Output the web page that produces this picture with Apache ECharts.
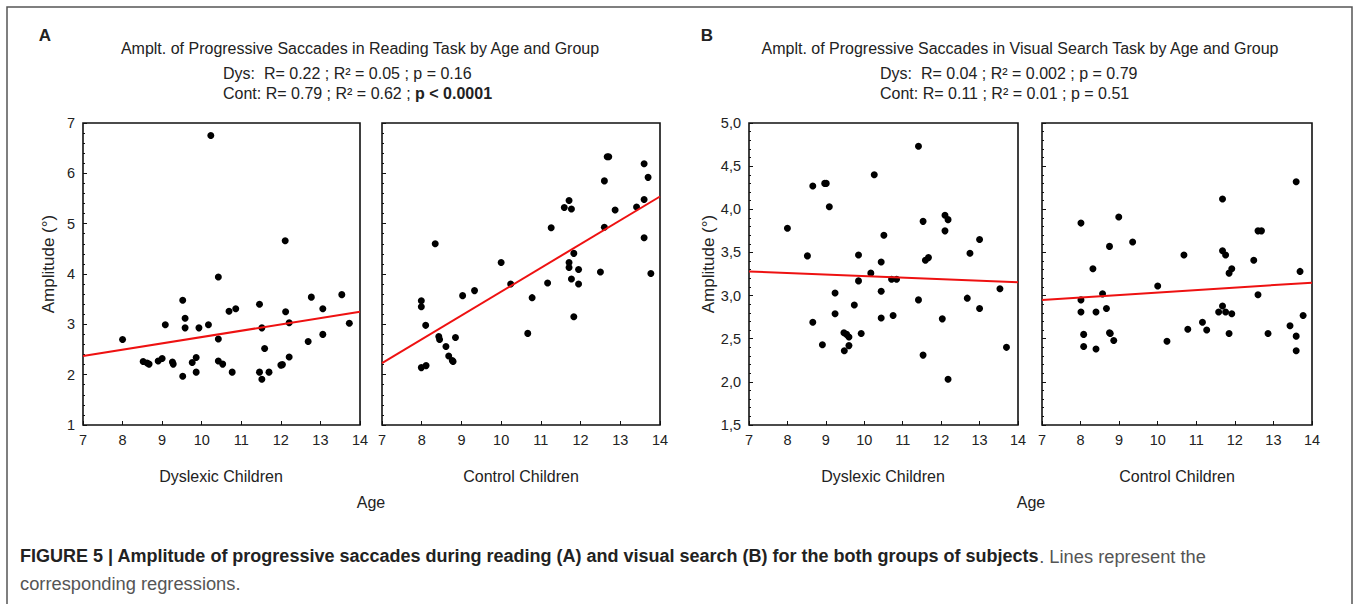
<!DOCTYPE html>
<html>
<head>
<meta charset="utf-8">
<script src="https://cdn.jsdelivr.net/npm/echarts@6/dist/echarts.min.js"></script>
<style>
html,body{margin:0;padding:0;background:#fff;}
#chart{width:1354px;height:604px;}
</style>
</head>
<body>
<div id="chart"></div>
<script>
// ---- Data (age in years, amplitude in degrees) ----
const ageTicks = [7, 8, 9, 10, 11, 12, 13, 14];

const dysReading = [
  [8.0,2.70],[8.52,2.26],[8.62,2.23],[8.67,2.21],[8.9,2.27],[9.0,2.32],[9.08,2.99],
  [9.26,2.25],[9.28,2.21],[9.52,3.48],[9.52,1.97],[9.58,3.12],[9.58,2.93],[9.76,2.24],
  [9.86,2.34],[9.86,2.05],[9.93,2.93],[10.17,2.99],[10.23,6.75],[10.42,3.94],[10.42,2.71],
  [10.42,2.27],[10.53,2.21],[10.69,3.26],[10.86,3.31],[10.77,2.05],[11.46,3.40],[11.52,2.93],
  [11.59,2.52],[11.46,2.05],[11.52,1.91],[11.70,2.05],[12.0,2.19],[12.04,2.20],[12.11,4.66],
  [12.12,3.25],[12.21,3.03],[12.21,2.35],[12.69,2.66],[12.77,3.54],[13.06,3.31],[13.06,2.80],
  [13.54,3.59],[13.73,3.02]
];
const contReading = [
  [7.99,3.47],[7.99,3.35],[8.10,2.98],[7.99,2.14],[8.11,2.18],[8.34,4.60],[8.43,2.76],
  [8.45,2.70],[8.61,2.56],[8.68,2.37],[8.77,2.28],[8.79,2.26],[8.85,2.74],[9.03,3.57],
  [9.33,3.67],[10.0,4.23],[10.24,3.80],[10.67,2.82],[10.78,3.53],[11.17,3.82],[11.26,4.92],
  [11.59,5.32],[11.71,5.46],[11.77,5.29],[11.71,4.23],[11.71,4.13],[11.83,4.41],[11.77,3.90],
  [11.95,4.09],[11.95,3.80],[11.83,3.15],[12.50,4.04],[12.60,5.85],[12.60,4.93],[12.67,6.33],
  [12.71,6.33],[12.87,5.27],[13.41,5.33],[13.60,6.19],[13.70,5.92],[13.60,5.48],[13.60,4.72],
  [13.77,4.01]
];
const dysSearch = [
  [8.0,3.78],[8.52,3.46],[8.66,4.27],[8.66,2.69],[8.91,2.43],[8.97,4.30],[9.01,4.30],
  [9.09,4.03],[9.24,3.03],[9.24,2.79],[9.47,2.57],[9.54,2.55],[9.60,2.52],[9.48,2.36],
  [9.60,2.42],[9.74,2.89],[9.85,3.47],[9.85,3.17],[9.92,2.56],[10.17,3.26],[10.26,4.40],
  [10.44,3.39],[10.44,3.05],[10.44,2.74],[10.51,3.70],[10.71,3.19],[10.84,3.19],[10.75,2.77],
  [11.41,4.73],[11.41,2.95],[11.53,3.86],[11.53,2.31],[11.59,3.41],[11.67,3.44],[12.03,2.73],
  [12.10,3.93],[12.18,3.88],[12.10,3.75],[12.18,2.03],[12.68,2.97],[12.75,3.49],[13.0,3.65],
  [13.0,2.85],[13.53,3.08],[13.70,2.40]
];
const contSearch = [
  [8.01,3.84],[8.01,2.95],[8.01,2.81],[8.08,2.55],[8.08,2.41],[8.32,3.31],[8.40,2.81],
  [8.40,2.38],[8.57,3.02],[8.67,2.85],[8.75,3.57],[8.75,2.57],[8.77,2.56],[8.86,2.48],
  [8.99,3.91],[9.35,3.62],[10.0,3.11],[10.24,2.47],[10.68,3.47],[10.78,2.61],[11.16,2.69],
  [11.27,2.60],[11.58,2.81],[11.68,4.12],[11.68,3.52],[11.76,3.47],[11.68,2.88],[11.76,2.81],
  [11.85,3.26],[11.92,3.31],[11.92,2.79],[11.85,2.56],[12.49,3.41],[12.60,3.01],[12.60,3.75],
  [12.69,3.75],[12.86,2.56],[13.43,2.65],[13.59,4.32],[13.69,3.28],[13.59,2.53],[13.59,2.36],
  [13.77,2.77]
];

// Regression line end points
const dysReadingFit  = [[7, 2.37], [14, 3.25]];
const contReadingFit = [[7, 2.23], [14, 5.54]];
const dysSearchFit   = [[7, 3.28], [14, 3.155]];
const contSearchFit  = [[7, 2.95], [14, 3.15]];

// ---- Chart ----
const FONT = "'Liberation Sans', Arial, sans-serif";
const TXT = '#222';
const chart = echarts.init(document.getElementById('chart'), null, {renderer: 'svg'});

const panels = [
  {left: 83,   width: 277, ymin: 1,   ymax: 7, iv: 1,   labels: true,  data: dysReading,  fit: dysReadingFit},
  {left: 382,  width: 278, ymin: 1,   ymax: 7, iv: 1,   labels: false, data: contReading, fit: contReadingFit},
  {left: 749,  width: 269, ymin: 1.5, ymax: 5, iv: 0.5, labels: true,  data: dysSearch,   fit: dysSearchFit, comma: true},
  {left: 1042, width: 270, ymin: 1.5, ymax: 5, iv: 0.5, labels: false, data: contSearch,  fit: contSearchFit, comma: true}
];

const grids = [], xAxes = [], yAxes = [], series = [];
panels.forEach((p, i) => {
  grids.push({left: p.left, top: 123, width: p.width, height: 302, show: true,
    borderColor: '#111', borderWidth: 1.6, backgroundColor: 'transparent', containLabel: false});
  xAxes.push({type: 'value', gridIndex: i, min: ageTicks[0], max: ageTicks[ageTicks.length - 1], interval: 1,
    axisLine: {show: false},
    axisTick: {show: true, inside: true, length: 4, lineStyle: {color: '#111', width: 1}},
    axisLabel: {show: true, color: TXT, fontSize: 14.5, fontFamily: FONT, margin: 7},
    splitLine: {show: false}});
  yAxes.push({type: 'value', gridIndex: i, min: p.ymin, max: p.ymax, interval: p.iv,
    axisLine: {show: false},
    axisTick: {show: true, inside: true, length: 4, lineStyle: {color: '#111', width: 1}},
    minorTick: {show: true, splitNumber: 5, length: 2, lineStyle: {color: '#111', width: 1}},
    axisLabel: {show: p.labels, color: TXT, fontSize: 14.5, fontFamily: FONT, margin: 8,
      formatter: p.comma ? (v => v.toFixed(1).replace('.', ',')) : (v => String(v))},
    splitLine: {show: false}, minorSplitLine: {show: false}});
  series.push({type: 'scatter', xAxisIndex: i, yAxisIndex: i, data: p.data, symbol: 'circle', symbolSize: 7,
    itemStyle: {color: '#000', opacity: 1}, z: 2, silent: true});
  series.push({type: 'line', xAxisIndex: i, yAxisIndex: i, data: p.fit, symbol: 'none',
    lineStyle: {color: '#ee1111', width: 2}, z: 3, silent: true});
});

function txt(x, y, text, opts) {
  return Object.assign({type: 'text', x: x, y: y, silent: true,
    style: Object.assign({text: text, fill: TXT, font: '16px ' + FONT, align: 'center', verticalAlign: 'middle'}, opts || {})});
}

const graphics = [
  {type: 'rect', shape: {x: 7, y: 7, width: 1345, height: 620}, style: {fill: 'none', stroke: '#555', lineWidth: 1.5}, silent: true},
  txt(45, 35, 'A', {font: 'bold 17px ' + FONT}),
  txt(707, 35, 'B', {font: 'bold 17px ' + FONT}),
  txt(360, 48, 'Amplt. of Progressive Saccades in Reading Task by Age and Group'),
  txt(223, 73, 'Dys:  R= 0.22 ; R² = 0.05 ; p = 0.16', {align: 'left'}),
  txt(223, 93, '{n|Cont: R= 0.79 ; R² = 0.62 ; }{b|p < 0.0001}', {align: 'left',
    rich: {n: {font: '16px ' + FONT, fill: TXT}, b: {font: 'bold 16px ' + FONT, fill: TXT}}}),
  txt(1020, 48, 'Amplt. of Progressive Saccades in Visual Search Task by Age and Group'),
  txt(880, 73, 'Dys:  R= 0.04 ; R² = 0.002 ; p = 0.79', {align: 'left'}),
  txt(880, 93, 'Cont: R= 0.11 ; R² = 0.01 ; p = 0.51', {align: 'left'}),
  Object.assign(txt(48, 264, 'Amplitude (°)', {font: '17px ' + FONT}), {rotation: Math.PI / 2}),
  Object.assign(txt(708, 264, 'Amplitude (°)', {font: '17px ' + FONT}), {rotation: Math.PI / 2}),
  txt(221, 476, 'Dyslexic Children'),
  txt(521, 476, 'Control Children'),
  txt(883, 476, 'Dyslexic Children'),
  txt(1177, 476, 'Control Children'),
  txt(371, 502, 'Age'),
  txt(1031, 502, 'Age'),
  txt(20, 556, '{b|FIGURE 5 | Amplitude of progressive saccades during reading (A) and visual search (B) for the both groups of subjects}{n|. Lines represent the}',
    {align: 'left', rich: {b: {font: 'bold 18px ' + FONT, fill: '#222'}, n: {font: '18.3px ' + FONT, fill: '#555'}}}),
  txt(20, 583, 'corresponding regressions.', {align: 'left', font: '18.3px ' + FONT, fill: '#555'})
];

chart.setOption({
  backgroundColor: '#fff',
  animation: false,
  grid: grids,
  xAxis: xAxes,
  yAxis: yAxes,
  series: series,
  graphic: graphics
});
</script>
</body>
</html>
